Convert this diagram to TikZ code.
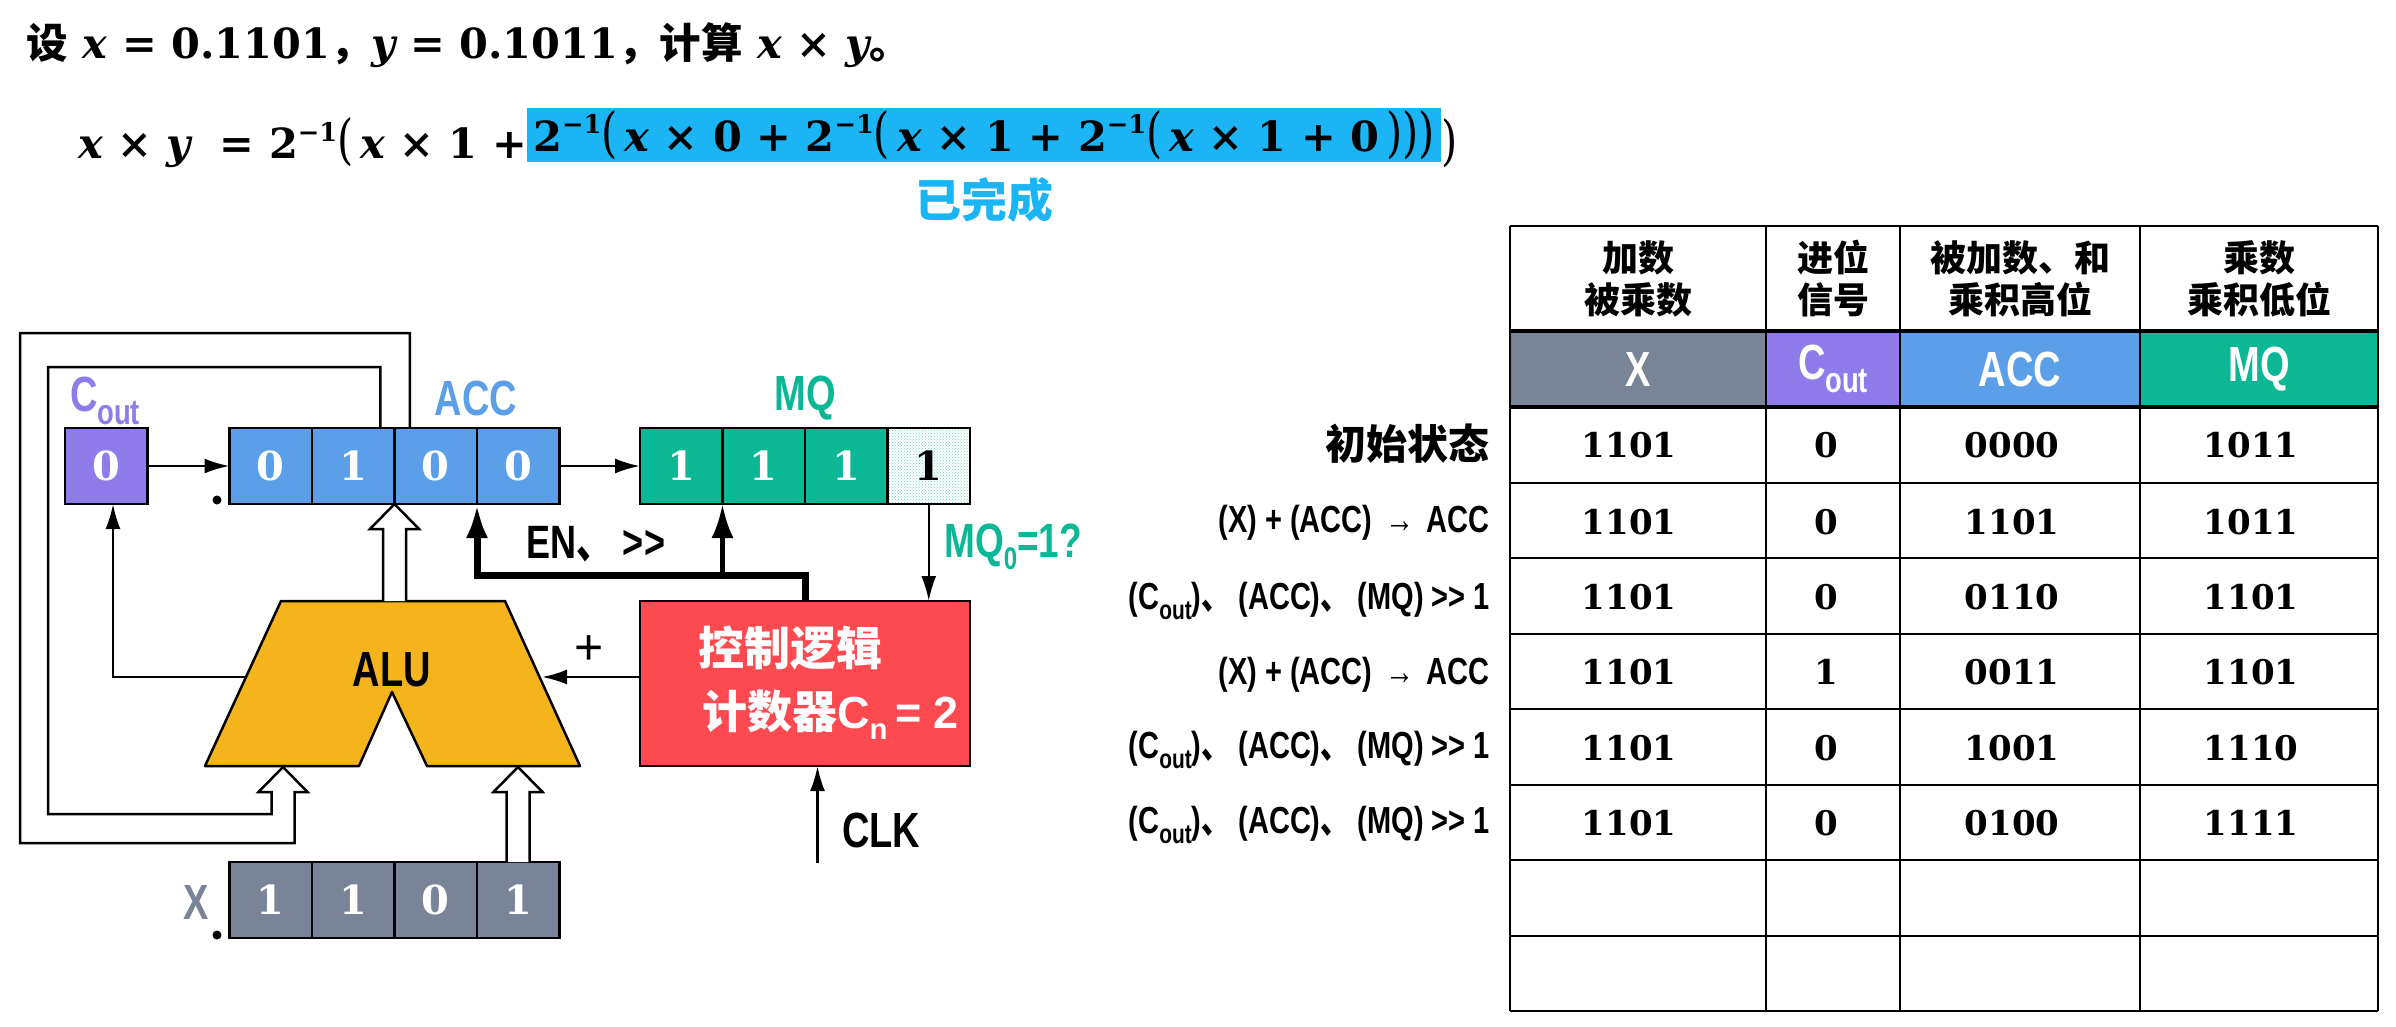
\documentclass[tikz,border=0pt]{standalone}
\usepackage{fontspec}
\setmainfont{Liberation Sans}
\newfontfamily\cjk{Noto Sans CJK SC}
\newfontfamily\numfont{DejaVu Serif}
\usetikzlibrary{calc}
\usetikzlibrary{patterns}
\usetikzlibrary{arrows.meta}
\usetikzlibrary{positioning}
\definecolor{coutpurple}{HTML}{8F7BEA}
\definecolor{accblue}{HTML}{5A9FE8}
\definecolor{mqteal}{HTML}{0BB795}
\definecolor{xgray}{HTML}{7A8499}
\definecolor{alugold}{HTML}{F5B41C}
\definecolor{ctrlred}{HTML}{FD4A50}
\definecolor{donecyan}{HTML}{1BB5F5}
\newcommand{\zh}[1]{{\cjk #1}}
\newcommand{\fs}[1]{\fontsize{#1}{#1}\selectfont}
\newcommand{\tall}[1]{\scalebox{1}[1.3]{#1}}
\newcommand{\vx}{{\itshape x}}
\newcommand{\vy}{{\itshape y}}
\newcommand{\pw}{2\raisebox{.42em}{\scalebox{.62}{−1}}}
\newcommand{\lp}{{\mdseries\scalebox{1}[1.3]{(}}}
\newcommand{\rp}{{\mdseries\scalebox{1}[1.3]{)}}}
\newcommand{\cout}{C\raisebox{-.28em}{\scalebox{.72}{out}}}
\newcommand{\shr}{>{}>}

\begin{document}
\begin{tikzpicture}[x=1pt,y=-1pt]
    \tikzstyle{regcell}=[draw=black,line width=2.5pt,minimum width=82.5pt,minimum height=76pt,inner sep=0pt,outer sep=0pt,text=white,font=\numfont\bfseries\fs{40}]
    \tikzstyle{reglabel}=[inner sep=0pt,font=\bfseries\fs{38}]
    \tikzstyle{wire}=[black,line width=2.5pt]
    \tikzstyle{fwd}=[wire,-{Latex[length=25pt,width=15pt]}]
    \tikzstyle{bus}=[black,-{Latex[length=34pt,width=22pt]}]
    \tikzstyle{headcell}=[inner sep=0pt,align=center,font=\bfseries\fs{36}]
    \tikzstyle{tagcell}=[inner sep=0pt,outer sep=0pt,minimum height=76pt,text=white,font=\bfseries\fs{38}]
    \tikzstyle{numcell}=[inner sep=0pt,font=\numfont\bfseries\fs{34}]
    \tikzstyle{oplabel}=[inner sep=0pt,anchor=east,font=\bfseries\fs{29}]
    \tikzstyle{mathline}=[inner sep=0pt,outer sep=0pt,font=\numfont\bfseries\fs{41.5}]

    \useasboundingbox (0,0) rectangle (2396,1026) ;

    % question and expansion
    \node[mathline,anchor=west] (question) at (27,45) {\zh{设} \vx\ = 0.1101\zh{，}\vy\ = 0.1011\zh{，}\zh{计算} \vx\ × \vy\zh{。}} ;
    \node[mathline,fill=donecyan,minimum width=914pt,minimum height=54pt] (done) at (984,135) {\raisebox{-8pt}{\pw\lp\,\vx\ × 0 + \pw\lp\,\vx\ × 1 + \pw\lp\,\vx\ × 1 + 0\,\rp\rp\rp}} ;
    \node[mathline,left=0pt of done,yshift=-8pt] (exprleft) {\vx\ × \vy\ \ = \pw\lp\,\vx\ × 1 +} ;
    \node[mathline,right=0pt of done,yshift=-8pt] (exprright) {\rp} ;
    \node[inner sep=0pt,text=donecyan,font=\cjk\bfseries\fs{46}] (donelabel) at (984,200) {已完成} ;

    % registers
    \node[regcell,fill=coutpurple] (cout) at (106,466) {0} ;
    \node[regcell,fill=accblue] (acc1) at (270.75,466) {0} ;
    \node[regcell,fill=accblue,right=0pt of acc1] (acc2) {1} ;
    \node[regcell,fill=accblue,right=0pt of acc2] (acc3) {0} ;
    \node[regcell,fill=accblue,right=0pt of acc3] (acc4) {0} ;
    \node[regcell,fill=mqteal] (mq1) at (681.25,466) {1} ;
    \node[regcell,fill=mqteal,right=0pt of mq1] (mq2) {1} ;
    \node[regcell,fill=mqteal,right=0pt of mq2] (mq3) {1} ;
    \node[regcell,pattern=crosshatch dots,pattern color=mqteal!60,text=black,right=0pt of mq3] (mq4) {1} ;
    \node[regcell,fill=xgray] (xr1) at (270.75,900) {1} ;
    \node[regcell,fill=xgray,right=0pt of xr1] (xr2) {1} ;
    \node[regcell,fill=xgray,right=0pt of xr2] (xr3) {0} ;
    \node[regcell,fill=xgray,right=0pt of xr3] (xr4) {1} ;

    \node[reglabel,text=coutpurple] (coutname) at (105,401) {\tall{\cout}} ;
    \node[reglabel,text=accblue] (accname) at (476,398) {\tall{ACC}} ;
    \node[reglabel,text=mqteal] (mqname) at (805,398) {\tall{MQ}} ;
    \node[reglabel,text=xgray] (xname) at (196,902) {\tall{X}} ;
    \node[circle,fill=black,minimum size=9pt,inner sep=0pt] (accdot) at (217,500) {} ;
    \node[circle,fill=black,minimum size=9pt,inner sep=0pt] (xdot) at (217,935) {} ;

    % alu and control
    \draw[black,line width=2.5pt,fill=alugold,line join=round] (281,601) -- (505,601) -- (580,766) -- (427,766) -- (392,692) -- (359,766) -- (205,766) -- cycle ;
    \node[inner sep=0pt,font=\bfseries\fs{38}] (alu) at (392,670) {\tall{ALU}} ;
    \node[draw=black,line width=2.5pt,fill=ctrlred,minimum width=330pt,minimum height=165pt,inner sep=0pt,outer sep=0pt] (ctrl) at (805,683.5) {} ;
    \node[inner sep=0pt,anchor=west,text=white,font=\cjk\bfseries\fs{46}] (ctrla) at (698,648) {控制逻辑} ;
    \node[inner sep=0pt,anchor=west,text=white,font=\bfseries\fs{45}] (ctrlb) at (702,715) {\zh{计数器}C\raisebox{-.25em}{\scalebox{.65}{n}}\,= 2} ;

    \coordinate (aluleft) at (245,677) ;
    \coordinate (aluright) at (542,677) ;
    \coordinate (alutipa) at (283,767) ;
    \coordinate (alutipb) at (518,767) ;
    \coordinate (busturn) at (805,575) ;
    \coordinate (clkin) at (817.5,863) ;

    % connectors
    \draw[fwd] (cout.east) -- (acc1.west) ;
    \draw[fwd] (acc4.east) -- (mq1.west) ;
    \draw[fwd] (aluleft) -| ([xshift=7pt]cout.south) ;
    \draw[fwd] (ctrl.west |- aluright) -- (aluright) ;
    \draw[fwd] (mq4.south) -- (ctrl.north -| mq4.south) ;
    \draw[fwd] (clkin) -- (ctrl.south -| clkin) ;
    \draw[bus,line width=5pt] (busturn) -| (mq2.south west) ;
    \draw[bus,line width=7pt] (ctrl.north) -- (busturn) -| (acc4.south west) ;

    \newcommand{\hollowup}[2]{%
      \draw[wire,fill=white,line join=miter] ($(#1)+(-11.5,#2)$) -- ($(#1)+(-11.5,25)$) -- ($(#1)+(-24.5,25)$) -- (#1)
        -- ($(#1)+(24.5,25)$) -- ($(#1)+(11.5,25)$) -- ($(#1)+(11.5,#2)$) ;}
    \hollowup{acc3.south west}{97}
    \hollowup{alutipb}{95}

    % both feedback lines end in the same hollow head
    \draw[wire,line join=miter] ([xshift=27pt]acc2.north) |- (48,367) |- ($(alutipa)+(-11.5,47)$) -- ($(alutipa)+(-11.5,25)$) -- ($(alutipa)+(-24.5,25)$) -- (alutipa)
        -- ($(alutipa)+(24.5,25)$) -- ($(alutipa)+(11.5,25)$) -- ($(alutipa)+(11.5,76)$) -| (20,333) -| ([xshift=-26pt]acc3.north) ;

    \node[inner sep=0pt,font=\bfseries\fs{36}] (enlabel) at (596,544) {\tall{EN\zh{、}\ \shr}} ;
    \node[inner sep=0pt,font=\fs{50}] (pluslabel) at (589,650) {+} ;
    \node[inner sep=0pt,anchor=west,text=mqteal,font=\bfseries\fs{37}] (mqtest) at (944,547) {\tall{MQ\raisebox{-.25em}{\scalebox{.65}{0}}=1?}} ;
    \node[inner sep=0pt,anchor=west,font=\bfseries\fs{38}] (clklabel) at (842,830) {\tall{CLK}} ;

    % table
    \node[tagcell,fill=xgray,minimum width=256pt] (tagx) at (1638,369) {\raisebox{-3pt}{\tall{X}}} ;
    \node[tagcell,fill=coutpurple,minimum width=134pt] (tagc) at (1833,369) {\raisebox{-5pt}{\tall{\cout}}} ;
    \node[tagcell,fill=accblue,minimum width=240pt] (taga) at (2020,369) {\raisebox{-3pt}{\tall{ACC}}} ;
    \node[tagcell,fill=mqteal,minimum width=238pt] (tagm) at (2259,369) {\raisebox{-3pt}{\tall{MQ}}} ;

    \foreach \ty in {226,483,558,634,709,785,860,936,1011}
      \draw[black,line width=2.5pt] (1510,\ty) -- (2378,\ty) ;
    \foreach \ty in {331,407}
      \draw[black,line width=4pt] (1510,\ty) -- (2378,\ty) ;
    \foreach \tx in {1510,1766,1900,2140,2378}
      \draw[black,line width=2.5pt] (\tx,226) -- (\tx,1011) ;

    \node[headcell] (heada) at (1638,279) {\zh{加数}\\[6pt]\zh{被乘数}} ;
    \node[headcell] (headb) at (1833,279) {\zh{进位}\\[6pt]\zh{信号}} ;
    \node[headcell] (headc) at (2020,279) {\zh{被加数、和}\\[6pt]\zh{乘积高位}} ;
    \node[headcell] (headd) at (2259,279) {\zh{乘数}\\[6pt]\zh{乘积低位}} ;

    \foreach \ry/\vala/\valb/\valc/\vald in {445/1101/0/0000/1011,522/1101/0/1101/1011,597/1101/0/0110/1101,672/1101/1/0011/1101,748/1101/0/1001/1110,823/1101/0/0100/1111}{%
      \node[numcell] (xval\ry) at (1629,\ry) {\vala} ;
      \node[numcell] (cval\ry) at (1826,\ry) {\valb} ;
      \node[numcell] (aval\ry) at (2012,\ry) {\valc} ;
      \node[numcell] (mval\ry) at (2251,\ry) {\vald} ;
    }

    \node[oplabel,font=\cjk\bfseries\fs{41}] (opinit) at (1490,444) {初始状态} ;
    \node[oplabel] (opadda) at (1490,523) {\tall{(X) + (ACC) \,→\, ACC}} ;
    \node[oplabel] (opshifta) at (1490,601) {\tall{(\cout)\zh{、} (ACC)\zh{、} (MQ) \shr\ 1}} ;
    \node[oplabel] (opaddb) at (1490,675) {\tall{(X) + (ACC) \,→\, ACC}} ;
    \node[oplabel] (opshiftb) at (1490,750) {\tall{(\cout)\zh{、} (ACC)\zh{、} (MQ) \shr\ 1}} ;
    \node[oplabel] (opshiftc) at (1490,825) {\tall{(\cout)\zh{、} (ACC)\zh{、} (MQ) \shr\ 1}} ;
\end{tikzpicture}
\end{document}
